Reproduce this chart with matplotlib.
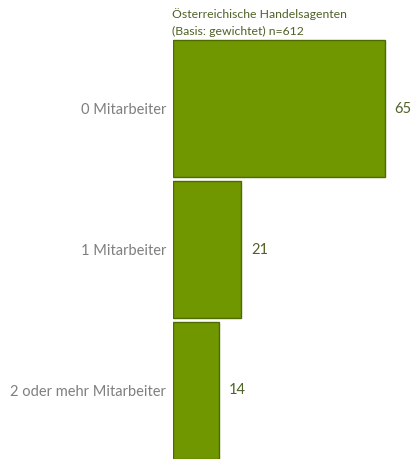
import matplotlib
matplotlib.use("Agg")
import matplotlib.pyplot as plt

categories = ["0 Mitarbeiter", "1 Mitarbeiter", "2 oder mehr Mitarbeiter"]
values = [65, 21, 14]
title_lines = ["Österreichische Handelsagenten", "(Basis: gewichtet) n=612"]

W, H = 416, 459
fig = plt.figure(figsize=(W/100, H/100), dpi=100)
plt.rcParams['font.family'] = ['Lato', 'DejaVu Sans']

left, right = 173, 416
top, bottom = 38, 461
ax = fig.add_axes([left/W, 1 - bottom/H, (right-left)/W, (bottom-top)/H])
px_per_unit = 212/65
ax.set_xlim(0, (right-left)/px_per_unit)
ax.set_ylim(len(categories) - 0.5, -0.5)
ypos = list(range(len(categories)))
ax.barh(ypos, values, height=0.975, color="#709600", edgecolor="#4f6b00", linewidth=1.0)
for y, v in zip(ypos, values):
    ax.annotate(str(v), (v, y), xytext=(7, 0), textcoords="offset points",
                va="center", ha="left", color="#4f6228", fontsize=10.5)
ax.set_yticks(ypos)
ax.set_yticklabels(categories, color="#7f7f7f", fontsize=10.5)
ax.tick_params(axis="y", length=0, pad=5)
ax.set_xticks([])
for s in ax.spines.values():
    s.set_visible(False)

fig.text(172/W, 1 - 14/H, title_lines[0], color="#4f6228", fontsize=8.8, va="center", ha="left")
fig.text(172/W, 1 - 31/H, title_lines[1], color="#4f6228", fontsize=8.8, va="center", ha="left")

fig.savefig("out.png", dpi=100)
